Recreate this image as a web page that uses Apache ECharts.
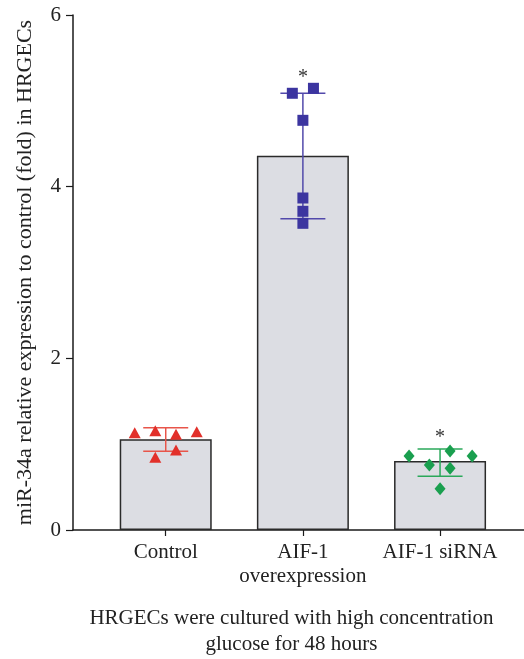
<!DOCTYPE html>
<html>
<head>
<meta charset="utf-8">
<script src="https://cdn.jsdelivr.net/npm/echarts@6/dist/echarts.min.js"></script>
<style>html,body{margin:0;padding:0;background:#fff}#c{width:524px;height:659px}</style>
</head>
<body>
<div id="c"></div>
<script>
// ---- data ----
const categories = ['Control', 'AIF-1\noverexpression', 'AIF-1 siRNA'];
const means = [1.057, 4.361, 0.804];
const errUp = [0.135, 0.727, 0.140];
const errDown = [0.140, 0.734, 0.179];
const significant = [false, true, true];
const yTicks = [0, 2, 4, 6];

const controlPoints = [1.134, 1.157, 1.115, 1.145, 0.932, 0.847];
const controlJitter = [-0.226, -0.076, 0.075, 0.226, 0.075, -0.076];
const aifPoints = [5.088, 5.146, 4.773, 3.868, 3.713, 3.573];
const aifJitter = [-0.077, 0.077, 0, 0, 0, 0];
const sirnaPoints = [0.862, 0.920, 0.862, 0.757, 0.718, 0.481];
const sirnaJitter = [-0.226, 0.073, 0.234, -0.078, 0.073, 0];

const pointColors = ['#e2302a', '#3c35a0', '#1a9f4f'];
const errColors = ['#e8554a', '#5249ab', '#2aa85a'];
const symbols = ['triangle', 'rect', 'diamond'];
const symbolSizes = [[12, 11], 11, [11, 13]];

const FONT = '"Liberation Serif", "DejaVu Serif", serif';
const groups = [
  [controlPoints, controlJitter],
  [aifPoints, aifJitter],
  [sirnaPoints, sirnaJitter]
];

const chart = echarts.init(document.getElementById('c'), null, {renderer: 'canvas'});

const scatterSeries = groups.map((g, gi) => ({
  type: 'scatter',
  symbol: symbols[gi],
  symbolSize: symbolSizes[gi],
  itemStyle: {color: pointColors[gi], opacity: 1},
  z: 5,
  data: g[0].map((v, k) => [gi + g[1][k], v])
}));

const starData = [];
means.forEach((m, i) => {
  if (significant[i]) {
    const top = Math.max(m + errUp[i], Math.max.apply(null, groups[i][0]));
    starData.push([i, top]);
  }
});

chart.setOption({
  animation: false,
  grid: {left: 73, right: 0, top: 15, bottom: 129, containLabel: false, outerBoundsMode: 'none'},
  xAxis: {
    type: 'value',
    min: -0.676, max: 2.612,
    splitLine: {show: false},
    axisLine: {show: true, onZero: false, lineStyle: {color: '#1a1a1a', width: 1.5}},
    axisTick: {show: true, customValues: [0, 1, 2], length: 6, lineStyle: {color: '#1a1a1a', width: 1.2}},
    axisLabel: {
      customValues: [0, 1, 2],
      formatter: v => categories[Math.round(v)] || '',
      fontFamily: FONT, fontSize: 21, color: '#222', lineHeight: 24, margin: 10
    },
    name: 'HRGECs were cultured with high concentration\nglucose for 48 hours',
    nameLocation: 'middle',
    nameGap: 75,
    nameTextStyle: {fontFamily: FONT, fontSize: 21, color: '#222', lineHeight: 26, verticalAlign: 'top', padding: [0, 14, 0, 0]}
  },
  yAxis: {
    type: 'value',
    min: 0, max: 6, interval: 2,
    splitLine: {show: false},
    axisLine: {show: true, onZero: false, lineStyle: {color: '#1a1a1a', width: 1.5}},
    axisTick: {show: true, length: 7, lineStyle: {color: '#1a1a1a', width: 1.2}},
    axisLabel: {fontFamily: FONT, fontSize: 21, color: '#222', margin: 12,
      formatter: v => yTicks.indexOf(v) >= 0 ? String(v) : ''},
    name: 'miR-34a relative expression to control (fold) in HRGECs',
    nameLocation: 'middle',
    nameRotate: 90,
    nameGap: 37,
    nameTextStyle: {fontFamily: FONT, fontSize: 22, color: '#222', padding: [0, 0, 0, 0]}
  },
  series: [
    {
      type: 'bar',
      barWidth: 92,
      z: 1,
      itemStyle: {color: '#dcdde3', borderColor: '#2a2a2a', borderWidth: 1.5},
      data: means.map((m, i) => [i, m])
    },
    {
      type: 'custom',
      z: 3,
      data: means.map((m, i) => [i, m, errUp[i], errDown[i]]),
      renderItem: function (params, api) {
        const x = api.value(0), m = api.value(1), up = api.value(2), dn = api.value(3);
        const pTop = api.coord([x, m + up]);
        const pBot = api.coord([x, m - dn]);
        const half = 22.5;
        const style = {stroke: errColors[params.dataIndex], lineWidth: 1.5};
        return {
          type: 'group',
          children: [
            {type: 'line', shape: {x1: pTop[0], y1: pTop[1], x2: pBot[0], y2: pBot[1]}, style: style},
            {type: 'line', shape: {x1: pTop[0] - half, y1: pTop[1], x2: pTop[0] + half, y2: pTop[1]}, style: style},
            {type: 'line', shape: {x1: pBot[0] - half, y1: pBot[1], x2: pBot[0] + half, y2: pBot[1]}, style: style}
          ]
        };
      }
    },
    ...scatterSeries,
    {
      type: 'custom',
      z: 6,
      data: starData,
      renderItem: function (params, api) {
        const p = api.coord([api.value(0), api.value(1)]);
        return {
          type: 'text',
          style: {text: '*', x: p[0], y: p[1] - 1, align: 'center', verticalAlign: 'bottom',
            font: '20px ' + FONT, fill: '#333'}
        };
      }
    }
  ]
});
</script>
</body>
</html>
